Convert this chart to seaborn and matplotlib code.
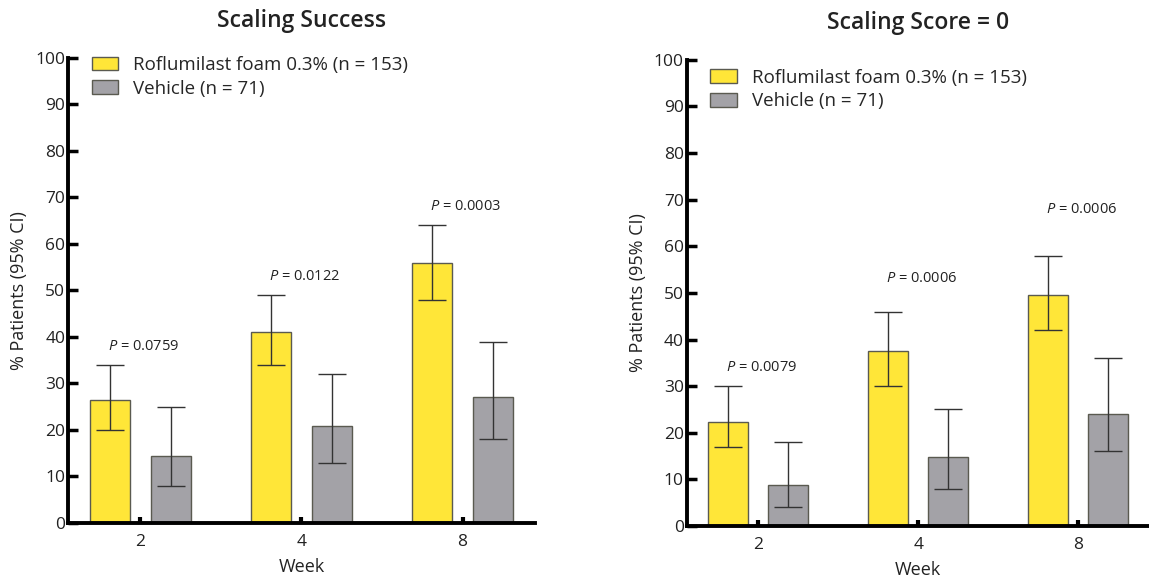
import numpy as np
import pandas as pd
import matplotlib
matplotlib.use("Agg")
import matplotlib.pyplot as plt
import seaborn as sns

weeks = ["2", "4", "8"]
groups = ["Roflumilast foam 0.3% (n = 153)", "Vehicle (n = 71)"]

success_rof = [26.5, 41.0, 56.0]
success_rof_lo = [20.0, 34.0, 48.0]
success_rof_hi = [34.0, 49.0, 64.0]
success_veh = [14.5, 20.8, 27.2]
success_veh_lo = [8.0, 13.0, 18.0]
success_veh_hi = [25.0, 32.0, 39.0]
success_p = ["0.0759", "0.0122", "0.0003"]
success_p_y = [38, 53, 68]

score0_rof = [22.3, 37.5, 49.5]
score0_rof_lo = [17.0, 30.0, 42.0]
score0_rof_hi = [30.0, 46.0, 58.0]
score0_veh = [8.7, 14.8, 24.0]
score0_veh_lo = [4.0, 8.0, 16.0]
score0_veh_hi = [18.0, 25.0, 36.0]
score0_p = ["0.0079", "0.0006", "0.0006"]
score0_p_y = [34, 53, 68]

titles = ["Scaling Success", "Scaling Score = 0"]

sns.set_style("white")
plt.rcParams["font.family"] = ["Open Sans", "DejaVu Sans"]
plt.rcParams["mathtext.fontset"] = "custom"
plt.rcParams["mathtext.it"] = "Open Sans:italic"
plt.rcParams["mathtext.rm"] = "Open Sans"

colors = ["#FFE638", "#A3A2A7"]

fig = plt.figure(figsize=(11.49, 5.82), dpi=100)
ax_pos = [[0.0592, 0.1014, 0.4064, 0.799], [0.5975, 0.0962, 0.4035, 0.801]]
leg_anchor = [(0.035, 1.02), (0.035, 0.997)]

panels = [
    (success_rof, success_rof_lo, success_rof_hi, success_veh, success_veh_lo, success_veh_hi, success_p, success_p_y),
    (score0_rof, score0_rof_lo, score0_rof_hi, score0_veh, score0_veh_lo, score0_veh_hi, score0_p, score0_p_y),
]

for i, (rof, rlo, rhi, veh, vlo, vhi, pv, py) in enumerate(panels):
    ax = fig.add_axes(ax_pos[i])
    df = pd.DataFrame({
        "Week": weeks * 2,
        "Group": [groups[0]] * 3 + [groups[1]] * 3,
        "Value": rof + veh,
        "lo": rlo + vlo,
        "hi": rhi + vhi,
    })
    sns.barplot(data=df, x="Week", y="Value", hue="Group", order=weeks,
                hue_order=groups, palette=colors, saturation=1, width=0.75, gap=0.333,
                errorbar=None, edgecolor="#5a5a50", linewidth=1.0, ax=ax)
    bars = [p for p in ax.patches if p.get_width() > 0 and p.get_height() > 0]
    bars = bars[:6]
    xs = [b.get_x() + b.get_width() / 2 for b in bars]
    vals = df["Value"].to_numpy()
    lo = df["lo"].to_numpy()
    hi = df["hi"].to_numpy()
    ax.errorbar(xs, vals, yerr=[vals - lo, hi - vals], fmt="none",
                ecolor="#333333", elinewidth=1.0, capsize=10, capthick=1.0)
    for j in range(3):
        ax.text(j + 0.02, py[j], "$P$ = " + pv[j], ha="center", va="center",
                fontsize=10.5, color="#222222")
    ax.set_ylim(0, 100)
    ax.set_xlim(-0.45, 2.45)
    ax.set_yticks(range(0, 101, 10))
    ax.set_ylabel("% Patients (95% CI)", fontsize=13, color="#222222", labelpad=5)
    ax.set_xlabel("Week", fontsize=13, color="#222222", labelpad=6)
    ax.set_title(titles[i], fontsize=16.5, fontweight="semibold", pad=22, color="#222222")
    for s in ["top", "right"]:
        ax.spines[s].set_visible(False)
    for s in ["left", "bottom"]:
        ax.spines[s].set_linewidth(2.8)
        ax.spines[s].set_color("black")
    ax.tick_params(axis="y", direction="in", length=7, width=2.5, labelsize=12.5,
                   colors="black", labelcolor="#222222", pad=2, left=True)
    ax.tick_params(axis="x", direction="in", length=4, width=3, labelsize=12.5,
                   colors="black", labelcolor="#222222", pad=8, bottom=True)
    handles, labels = ax.get_legend_handles_labels()
    ax.legend(handles, labels, loc="upper left", bbox_to_anchor=leg_anchor[i],
              frameon=False, fontsize=13.5, handlelength=1.4, handleheight=0.75,
              labelspacing=0.3, handletextpad=0.8, borderaxespad=0)

fig.savefig("out.png", dpi=100)
